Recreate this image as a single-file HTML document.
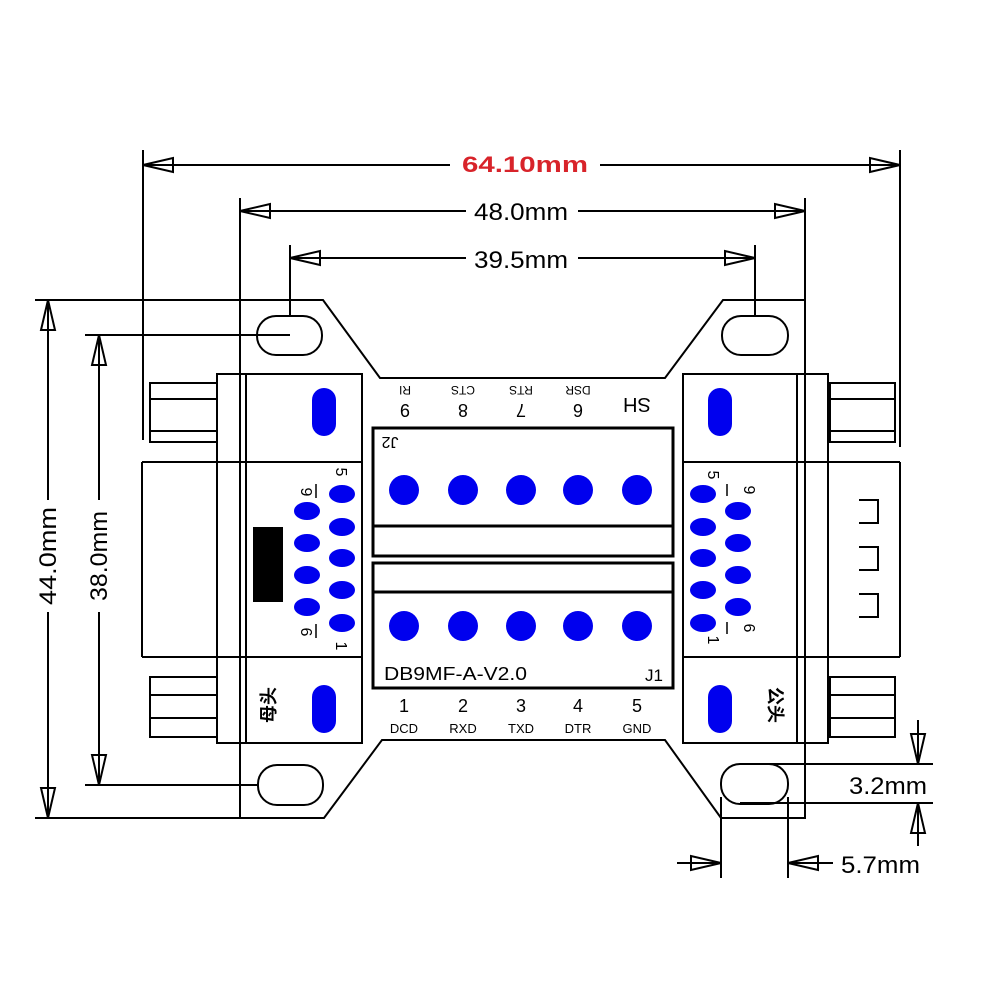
<!DOCTYPE html>
<html><head><meta charset="utf-8"><style>
html,body{margin:0;padding:0;background:#fff;}
svg{display:block;}
text{font-family:"Liberation Sans Narrow","Liberation Sans","Noto Sans CJK SC",sans-serif;fill:#000;}
</style></head><body>
<svg width="1000" height="1000" viewBox="0 0 1000 1000" xmlns="http://www.w3.org/2000/svg">
<g stroke="#000" stroke-width="2" fill="none">
<!-- board outline -->
<path d="M240 300 L323 300 L380 378 L665 378 L723 300 L805 300 L805 818 L721 818 L665 740 L382 740 L324 818 L240 818 Z"/>
<!-- holes -->
<rect x="257" y="316" width="65" height="39" rx="19"/>
<rect x="722" y="316" width="66" height="39" rx="19"/>
<rect x="258" y="765" width="65" height="40" rx="19"/>
<rect x="721" y="764" width="67" height="40" rx="19"/>
<!-- left connector -->
<rect x="217" y="374" width="145" height="369"/>
<line x1="246" y1="374" x2="246" y2="743"/>
<line x1="142" y1="462" x2="362" y2="462"/>
<line x1="142" y1="657" x2="362" y2="657"/>
<line x1="142" y1="462" x2="142" y2="657"/>
<rect x="150" y="383" width="67" height="59"/>
<line x1="150" y1="399" x2="217" y2="399"/><line x1="150" y1="431" x2="217" y2="431"/>
<rect x="150" y="677" width="67" height="60"/>
<line x1="150" y1="695" x2="217" y2="695"/><line x1="150" y1="718" x2="217" y2="718"/>
<!-- right connector -->
<rect x="683" y="374" width="145" height="369"/>
<line x1="797" y1="374" x2="797" y2="743"/>
<line x1="683" y1="462" x2="900" y2="462"/>
<line x1="683" y1="657" x2="900" y2="657"/>
<line x1="900" y1="462" x2="900" y2="657"/>
<rect x="830" y="383" width="65" height="59"/>
<line x1="830" y1="399" x2="895" y2="399"/><line x1="830" y1="431" x2="895" y2="431"/>
<rect x="830" y="677" width="65" height="60"/>
<line x1="830" y1="695" x2="895" y2="695"/><line x1="830" y1="718" x2="895" y2="718"/>
<path d="M859 500 H878 V523 H859 M859 547 H878 V570 H859 M859 594 H878 V617 H859"/>
<!-- terminal blocks -->
<g stroke-width="3">
<rect x="373" y="428" width="300" height="128"/>
<line x1="373" y1="526" x2="673" y2="526"/>
<rect x="373" y="563" width="300" height="125"/>
<line x1="373" y1="592" x2="673" y2="592"/>
</g>
<!-- dimension lines -->
<line x1="143" y1="150" x2="143" y2="440"/>
<line x1="900" y1="150" x2="900" y2="447"/>
<line x1="143" y1="165" x2="450" y2="165"/><line x1="600" y1="165" x2="900" y2="165"/>
<line x1="240" y1="198" x2="240" y2="300"/>
<line x1="805" y1="198" x2="805" y2="300"/>
<line x1="240" y1="211" x2="466" y2="211"/><line x1="578" y1="211" x2="805" y2="211"/>
<line x1="290" y1="245" x2="290" y2="316"/>
<line x1="755" y1="245" x2="755" y2="316"/>
<line x1="290" y1="258" x2="466" y2="258"/><line x1="578" y1="258" x2="755" y2="258"/>
<line x1="35" y1="300" x2="240" y2="300"/>
<line x1="35" y1="818" x2="240" y2="818"/>
<line x1="48" y1="300" x2="48" y2="500"/><line x1="48" y1="612" x2="48" y2="818"/>
<line x1="85" y1="335" x2="290" y2="335"/>
<line x1="85" y1="785" x2="258" y2="785"/>
<line x1="99" y1="335" x2="99" y2="500"/><line x1="99" y1="612" x2="99" y2="785"/>
<line x1="740" y1="764" x2="933" y2="764"/>
<line x1="740" y1="803" x2="933" y2="803"/>
<line x1="918" y1="720" x2="918" y2="764"/><line x1="918" y1="803" x2="918" y2="846"/>
<line x1="721" y1="797" x2="721" y2="878"/>
<line x1="788" y1="797" x2="788" y2="878"/>
<line x1="677" y1="863" x2="721" y2="863"/><line x1="788" y1="863" x2="833" y2="863"/>
<!-- arrowheads -->
<path d="M143 165 L173 158 L173 172 Z M900 165 L870 158 L870 172 Z"/>
<path d="M240 211 L270 204 L270 218 Z M805 211 L775 204 L775 218 Z"/>
<path d="M290 258 L320 251 L320 265 Z M755 258 L725 251 L725 265 Z"/>
<path d="M48 300 L41 330 L55 330 Z M48 818 L41 788 L55 788 Z"/>
<path d="M99 335 L92 365 L106 365 Z M99 785 L92 755 L106 755 Z"/>
<path d="M918 764 L911 734 L925 734 Z M918 803 L911 833 L925 833 Z"/>
<path d="M721 863 L691 856 L691 870 Z M788 863 L818 856 L818 870 Z"/>
</g>
<!-- black block -->
<rect x="253" y="527" width="30" height="75" fill="#000"/>
<g fill="#0000ee">
<rect x="312" y="388" width="24" height="48" rx="12"/>
<rect x="312" y="685" width="24" height="48" rx="12"/>
<rect x="708" y="388" width="24" height="48" rx="12"/>
<rect x="708" y="685" width="24" height="48" rx="12"/>
<circle cx="404" cy="490" r="15"/><circle cx="463" cy="490" r="15"/><circle cx="521" cy="490" r="15"/><circle cx="578" cy="490" r="15"/><circle cx="637" cy="490" r="15"/>
<circle cx="404" cy="626" r="15"/><circle cx="463" cy="626" r="15"/><circle cx="521" cy="626" r="15"/><circle cx="578" cy="626" r="15"/><circle cx="637" cy="626" r="15"/>
<ellipse cx="342" cy="494" rx="13" ry="9"/><ellipse cx="342" cy="527" rx="13" ry="9"/><ellipse cx="342" cy="558" rx="13" ry="9"/><ellipse cx="342" cy="590" rx="13" ry="9"/><ellipse cx="342" cy="623" rx="13" ry="9"/>
<ellipse cx="307" cy="511" rx="13" ry="9"/><ellipse cx="307" cy="543" rx="13" ry="9"/><ellipse cx="307" cy="575" rx="13" ry="9"/><ellipse cx="307" cy="607" rx="13" ry="9"/>
<ellipse cx="703" cy="494" rx="13" ry="9"/><ellipse cx="703" cy="527" rx="13" ry="9"/><ellipse cx="703" cy="558" rx="13" ry="9"/><ellipse cx="703" cy="590" rx="13" ry="9"/><ellipse cx="703" cy="623" rx="13" ry="9"/>
<ellipse cx="738" cy="511" rx="13" ry="9"/><ellipse cx="738" cy="543" rx="13" ry="9"/><ellipse cx="738" cy="575" rx="13" ry="9"/><ellipse cx="738" cy="607" rx="13" ry="9"/>
</g>
<!-- dimension text -->
<text x="525" y="172" font-size="22" font-weight="bold" text-anchor="middle" style="fill:#d8232a;font-family:'Liberation Sans',sans-serif" textLength="126" lengthAdjust="spacingAndGlyphs">64.10mm</text>
<text x="521" y="220" font-size="24" text-anchor="middle" textLength="94" lengthAdjust="spacingAndGlyphs">48.0mm</text>
<text x="521" y="268" font-size="24" text-anchor="middle" textLength="94" lengthAdjust="spacingAndGlyphs">39.5mm</text>
<text transform="translate(56,556) rotate(-90)" font-size="24" text-anchor="middle" textLength="98" lengthAdjust="spacingAndGlyphs">44.0mm</text>
<text transform="translate(107,556) rotate(-90)" font-size="24" text-anchor="middle" textLength="90" lengthAdjust="spacingAndGlyphs">38.0mm</text>
<text x="849" y="794" font-size="24" textLength="78" lengthAdjust="spacingAndGlyphs">3.2mm</text>
<text x="841" y="873" font-size="24" textLength="79" lengthAdjust="spacingAndGlyphs">5.7mm</text>
<!-- top labels upside down -->
<g font-size="18" text-anchor="middle">
<text transform="translate(405,404) rotate(180)">9</text>
<text transform="translate(463,404) rotate(180)">8</text>
<text transform="translate(521,404) rotate(180)">7</text>
<text transform="translate(578,404) rotate(180)">6</text>
<text transform="translate(637,398) rotate(180)" font-size="20">SH</text>
<text transform="translate(405,386) rotate(180)" font-size="12">RI</text>
<text transform="translate(463,386) rotate(180)" font-size="12">CTS</text>
<text transform="translate(521,386) rotate(180)" font-size="12">RTS</text>
<text transform="translate(578,386) rotate(180)" font-size="12">DSR</text>
<text transform="translate(390,437) rotate(180)" font-size="16">J2</text>
</g>
<!-- bottom labels -->
<g font-size="18" text-anchor="middle">
<text x="404" y="712">1</text><text x="463" y="712">2</text><text x="521" y="712">3</text><text x="578" y="712">4</text><text x="637" y="712">5</text>
<text x="404" y="733" font-size="13">DCD</text><text x="463" y="733" font-size="13">RXD</text><text x="521" y="733" font-size="13">TXD</text><text x="578" y="733" font-size="13">DTR</text><text x="637" y="733" font-size="13">GND</text>
</g>
<text x="384" y="680" font-size="18" textLength="143" lengthAdjust="spacingAndGlyphs">DB9MF-A-V2.0</text>
<text x="645" y="681" font-size="17">J1</text>
<!-- connector pin labels -->
<g font-size="16" text-anchor="middle">
<text transform="translate(336,472) rotate(90)">5</text>
<text transform="translate(301,492) rotate(90)">9</text>
<line x1="316" y1="484" x2="316" y2="498" stroke="#000" stroke-width="1.5"/>
<text transform="translate(301,632) rotate(90)">6</text>
<line x1="316" y1="624" x2="316" y2="638" stroke="#000" stroke-width="1.5"/>
<text transform="translate(336,646) rotate(90)">1</text>
<text transform="translate(708,475) rotate(90)">5</text>
<text transform="translate(744,490) rotate(90)">9</text>
<line x1="727" y1="484" x2="727" y2="496" stroke="#000" stroke-width="1.5"/>
<text transform="translate(744,628) rotate(90)">6</text>
<line x1="727" y1="622" x2="727" y2="634" stroke="#000" stroke-width="1.5"/>
<text transform="translate(708,640) rotate(90)">1</text>
</g>
<text transform="translate(275,705) rotate(-90)" font-size="18" text-anchor="middle" style="font-family:'Noto Sans CJK SC',sans-serif;font-weight:bold">母头</text>
<text transform="translate(769,705) rotate(90)" font-size="18" text-anchor="middle" style="font-family:'Noto Sans CJK SC',sans-serif;font-weight:bold">公头</text>
</svg>
</body></html>
